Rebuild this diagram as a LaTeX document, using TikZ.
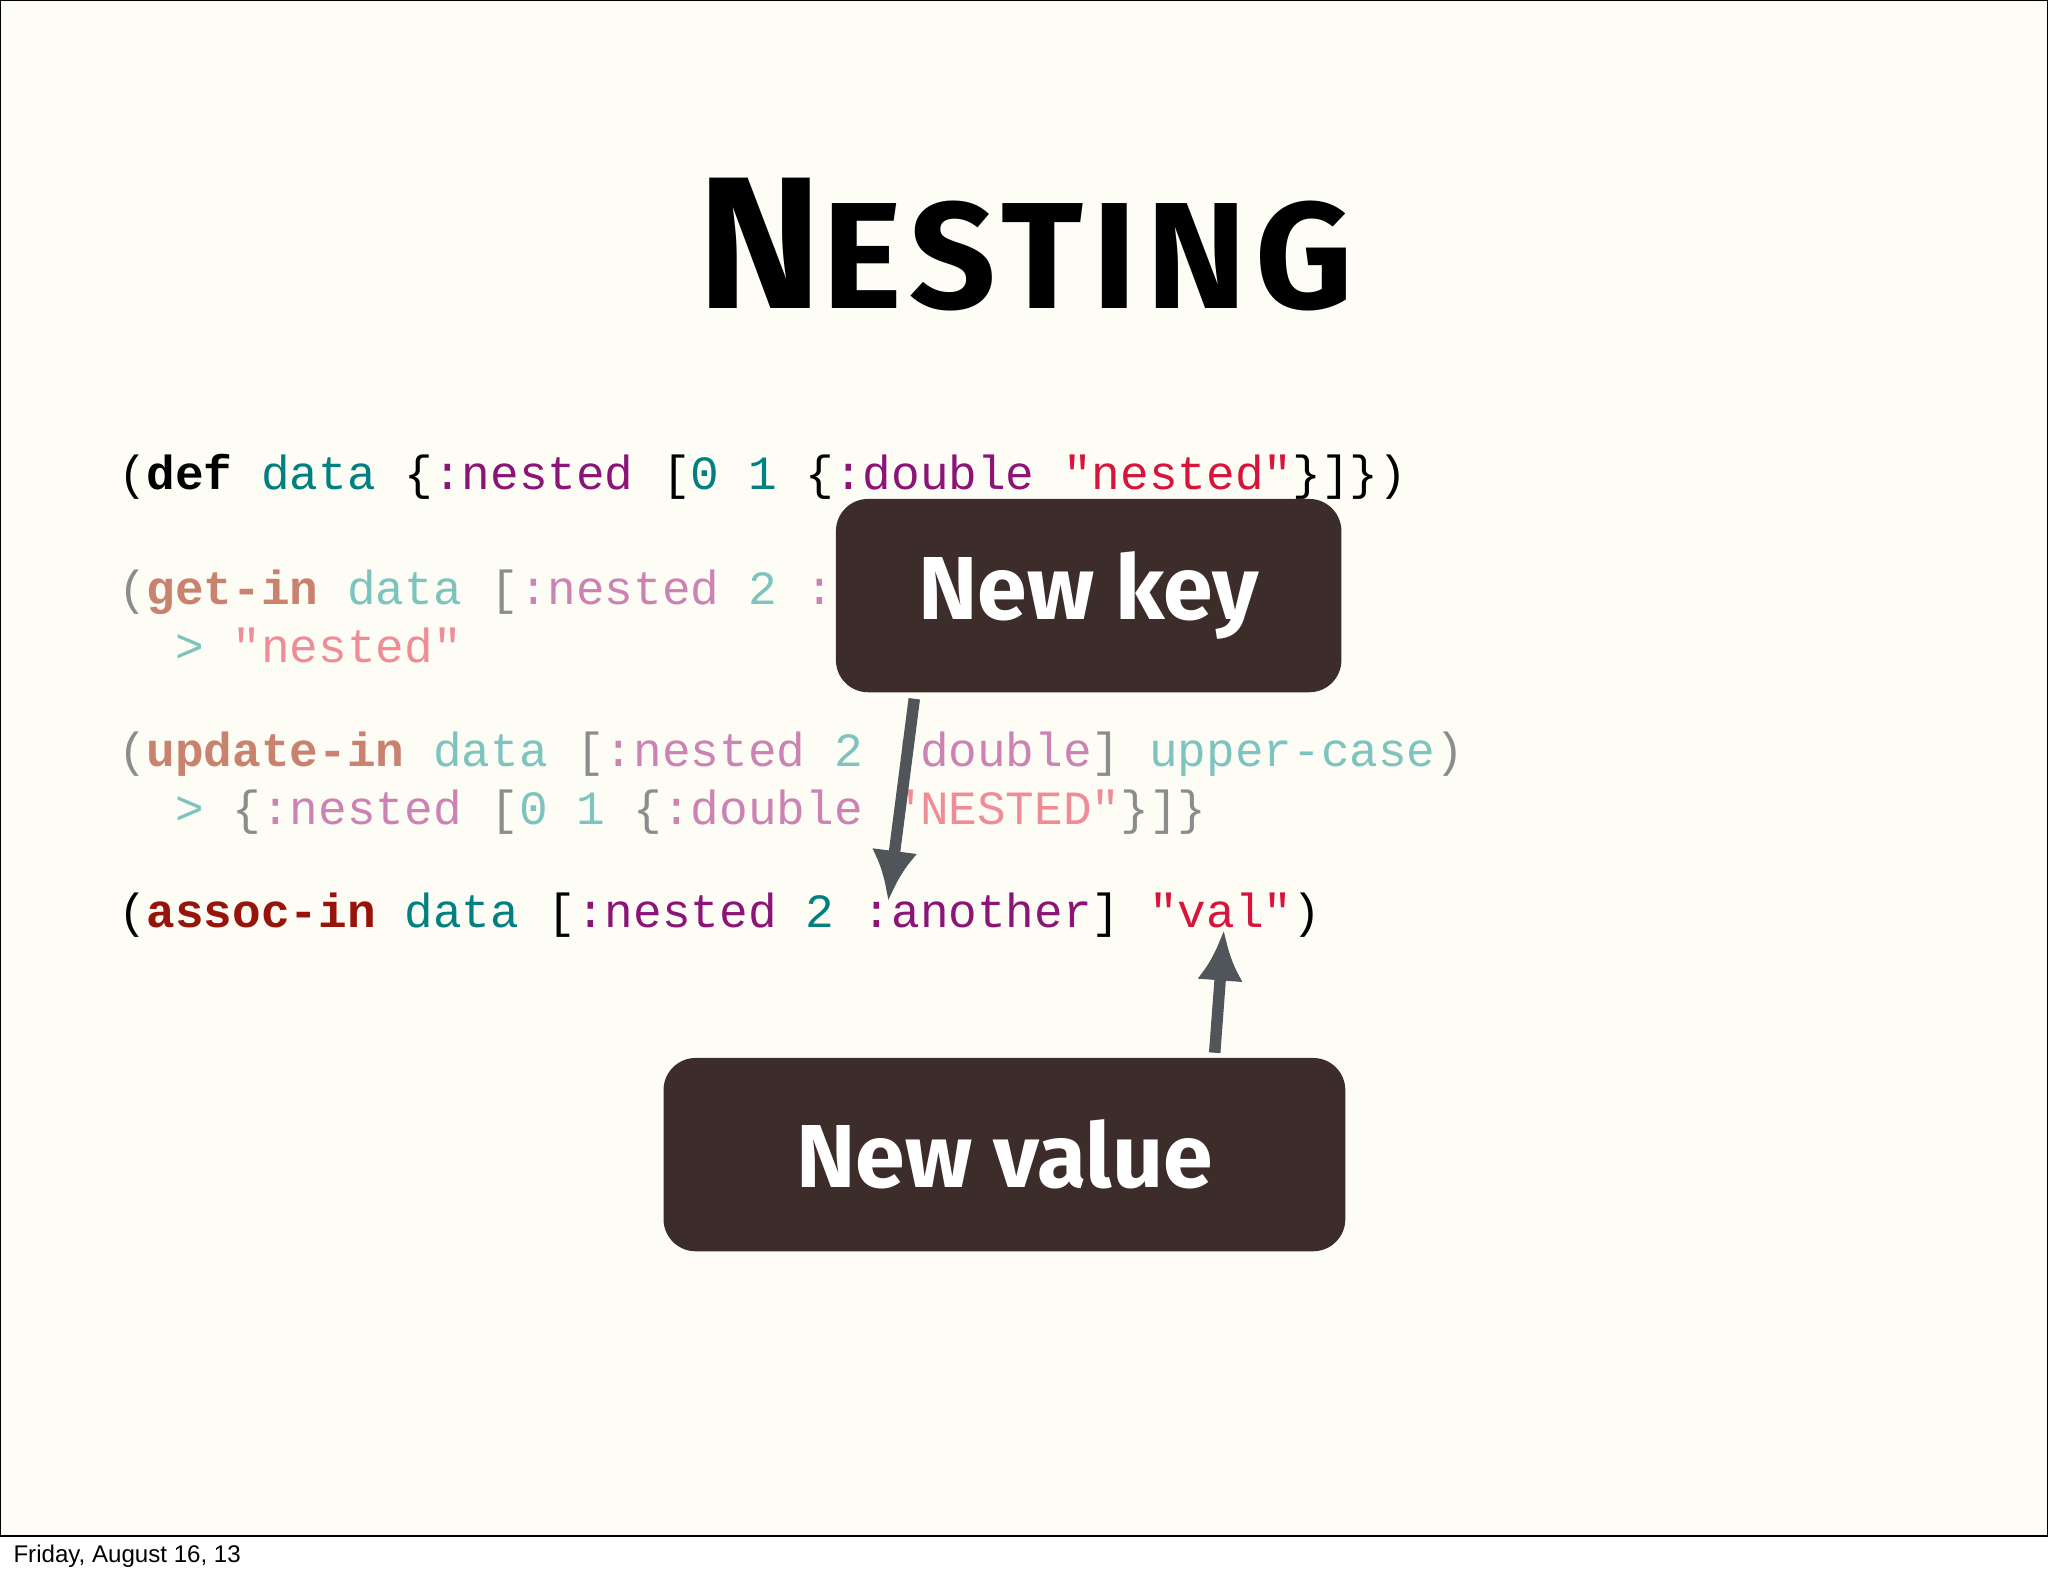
\documentclass[tikz,border=0pt]{standalone}
\usepackage{fontspec}
\setmainfont{Fira Sans}
\setmonofont{Liberation Mono}
\newfontfamily\footfont{Liberation Sans}
\definecolor{bg}{RGB}{253,253,245}
\definecolor{tl}{RGB}{0,128,128}
\definecolor{pu}{RGB}{140,20,120}
\definecolor{cr}{RGB}{215,20,60}
\definecolor{dr}{RGB}{150,20,10}
\definecolor{ftl}{RGB}{125,195,190}
\definecolor{fpu}{RGB}{205,130,180}
\definecolor{fcr}{RGB}{240,140,150}
\definecolor{fbr}{RGB}{200,130,110}
\definecolor{fgr}{RGB}{140,140,140}
\definecolor{boxc}{RGB}{60,45,43}
\definecolor{arr}{RGB}{80,85,90}
\newcommand{\cc}[2]{\textcolor{#1}{#2}}
\begin{document}
\begin{tikzpicture}[x=0.02cm,y=-0.02cm,
  code/.style={anchor=base west,inner sep=0,font=\ttfamily\fontsize{20.8}{24}\selectfont},
  callout/.style={fill=boxc,rounded corners=14pt,text=white,font=\bfseries\fontsize{39}{44}\selectfont},
  pointer/.style={draw=arr,line width=5pt,-{Latex[length=22pt,width=20pt]}}]
\usetikzlibrary{arrows.meta}
\useasboundingbox (0,0) rectangle (1568,1206);
\fill[bg] (0,0) rectangle (1568,1176);
\draw[line width=0.6pt] (0,0.5) rectangle (1567.5,1176);
\node[anchor=base,inner sep=0,font=\bfseries] (title) at (785,236)
  {\fontsize{82}{90}\selectfont N\fontsize{66}{70}\selectfont\addfontfeature{LetterSpace=6}ESTING};
\node[code] (l1) at (90,375) {(\textbf{def} \cc{tl}{data} \{\cc{pu}{:nested} [\cc{tl}{0} \cc{tl}{1} \{\cc{pu}{:double} \cc{cr}{"nested"}\}]\})};
\node[code] (l2) at (90,463) {\cc{fgr}{(}\cc{fbr}{\textbf{get-in}} \cc{ftl}{data} \cc{fgr}{[}\cc{fpu}{:nested} \cc{ftl}{2} \cc{fpu}{:}};
\node[code] (l3) at (90,507) {\cc{ftl}{\ \ >} \cc{fcr}{"nested"}};
\node[code] (l4) at (90,587) {\cc{fgr}{(}\cc{fbr}{\textbf{update-in}} \cc{ftl}{data} \cc{fgr}{[}\cc{fpu}{:nested} \cc{ftl}{2} \cc{fpu}{:double}\cc{fgr}{]} \cc{ftl}{upper-case}\cc{fgr}{)}};
\node[code] (l5) at (90,631) {\cc{ftl}{\ \ >} \cc{fgr}{\{}\cc{fpu}{:nested} \cc{fgr}{[}\cc{ftl}{0} \cc{ftl}{1} \cc{fgr}{\{}\cc{fpu}{:double} \cc{fcr}{"NESTED"}\cc{fgr}{\}]\}}};
\node[code] (l6) at (90,710) {(\cc{dr}{\textbf{assoc-in}} \cc{tl}{data} [\cc{pu}{:nested} \cc{tl}{2} \cc{pu}{:another}] \cc{cr}{"val"})};
\node[callout,minimum width=387*0.02cm,minimum height=148*0.02cm] (k) at (833.5,456) {New key};
\node[callout,minimum width=522*0.02cm,minimum height=148*0.02cm] (v) at (769,884) {New value};
\coordinate (kt) at (700,535);
\coordinate (kh) at (680,690);
\coordinate (vt) at (930,806);
\coordinate (vh) at (937,712);
\draw[pointer] (kt) -- (kh);
\draw[pointer] (vt) -- (vh);
\node[anchor=base west,inner sep=0,font=\footfont\fontsize{10.5}{12}\selectfont] (foot) at (10,1196) {Friday, August 16, 13};
\end{tikzpicture}
\end{document}
